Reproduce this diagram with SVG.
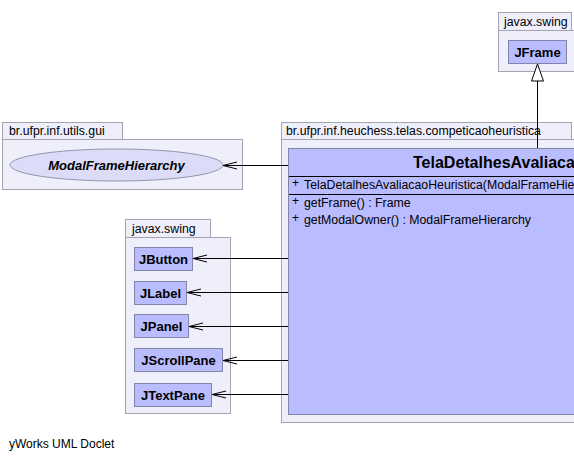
<svg xmlns="http://www.w3.org/2000/svg" width="574" height="460" viewBox="0 0 574 460">
<style>
.pkg{fill:#EFEFFC;stroke:#A4A4B0;stroke-width:1}
.pl{font-family:"Liberation Sans",Arial,sans-serif;font-size:12.3px;fill:#000}
.cls{fill:#B9BCFF;stroke:#8484A8;stroke-width:1}
.cn{font-family:"Liberation Sans",Arial,sans-serif;font-size:13px;font-weight:bold;fill:#000;text-anchor:middle}
.mem{font-family:"Liberation Sans",Arial,sans-serif;font-size:12.3px;fill:#000}
.sep{stroke:#000;stroke-width:1}
.edge{stroke:#000;stroke-width:1;fill:none}
</style>
<defs>
<marker id="open" markerWidth="16" markerHeight="10" refX="15" refY="5" orient="auto" markerUnits="userSpaceOnUse">
<path d="M1,1.5 L15,5 L1,8.5" fill="none" stroke="#000" stroke-width="1"/>
</marker>
<marker id="inh" markerWidth="19" markerHeight="14" refX="18" refY="7" orient="auto" markerUnits="userSpaceOnUse">
<path d="M18,7 L1,1 L1,13 Z" fill="#fff" stroke="#000" stroke-width="1"/>
</marker>
</defs>
<g id="pkg-javax-swing-top">
<rect class="pkg" x="498.5" y="12.5" width="73" height="18"/>
<rect class="pkg" x="498.5" y="30.5" width="78" height="41"/>
<text class="pl" x="504" y="26">javax.swing</text>
</g>
<g id="JFrame">
<rect class="cls" x="508.5" y="40.5" width="58" height="23"/>
<text class="cn" x="537.5" y="57">JFrame</text>
</g>
<g id="pkg-utils-gui">
<rect class="pkg" x="2.5" y="122.5" width="120" height="17"/>
<rect class="pkg" x="2.5" y="139.5" width="240" height="50"/>
<text class="pl" x="9" y="135">br.ufpr.inf.utils.gui</text>
</g>
<g id="ModalFrameHierarchy">
<ellipse cx="116.5" cy="165" rx="106.5" ry="16" fill="#DCDCF8" stroke="#9494AC" stroke-width="1"/>
<text x="116.5" y="170" font-family="Liberation Sans,Arial,sans-serif" font-size="13px" font-weight="bold" font-style="italic" text-anchor="middle">ModalFrameHierarchy</text>
</g>
<g id="pkg-telas">
<rect class="pkg" x="281.5" y="122.5" width="290" height="17"/>
<rect class="pkg" x="281.5" y="139.5" width="400" height="283"/>
<text class="pl" x="286" y="135">br.ufpr.inf.heuchess.telas.competicaoheuristica</text>
</g>
<g id="TelaDetalhesAvaliacaoHeuristica">
<rect class="cls" x="288.5" y="148.5" width="400" height="266"/>
<text x="413" y="168" font-family="Liberation Sans,Arial,sans-serif" font-size="16px" font-weight="bold">TelaDetalhesAvaliacaoHeuristica</text>
<line class="sep" x1="289" y1="176.5" x2="688" y2="176.5"/>
<text class="mem" x="292" y="187" font-size="10px">+</text>
<text class="mem" x="304" y="189">TelaDetalhesAvaliacaoHeuristica(ModalFrameHierarchy)</text>
<line class="sep" x1="289" y1="194.5" x2="688" y2="194.5"/>
<text class="mem" x="292" y="205" font-size="10px">+</text>
<text class="mem" x="304" y="207">getFrame() : Frame</text>
<text class="mem" x="292" y="222" font-size="10px">+</text>
<text class="mem" x="304" y="224">getModalOwner() : ModalFrameHierarchy</text>
</g>
<g id="pkg-javax-swing">
<rect class="pkg" x="125.5" y="219.5" width="85" height="18"/>
<rect class="pkg" x="125.5" y="237.5" width="105" height="176"/>
<text class="pl" x="132" y="233">javax.swing</text>
</g>
<g id="JButton">
<rect class="cls" x="134.5" y="247.5" width="58" height="23"/>
<text class="cn" x="163.5" y="264">JButton</text>
</g>
<g id="JLabel">
<rect class="cls" x="134.5" y="281.5" width="52" height="23"/>
<text class="cn" x="160.5" y="298">JLabel</text>
</g>
<g id="JPanel">
<rect class="cls" x="134.5" y="314.5" width="54" height="23"/>
<text class="cn" x="161.5" y="331">JPanel</text>
</g>
<g id="JScrollPane">
<rect class="cls" x="134.5" y="348.5" width="88" height="23"/>
<text class="cn" x="178.5" y="365">JScrollPane</text>
</g>
<g id="JTextPane">
<rect class="cls" x="134.5" y="383.5" width="77" height="23"/>
<text class="cn" x="173" y="400">JTextPane</text>
</g>
<g id="connectors">
<line class="edge" x1="537.5" y1="148" x2="537.5" y2="64" marker-end="url(#inh)"/>
<line class="edge" x1="288" y1="165.5" x2="223" y2="165.5" marker-end="url(#open)"/>
<line class="edge" x1="288" y1="258.5" x2="193" y2="258.5" marker-end="url(#open)"/>
<line class="edge" x1="288" y1="292.5" x2="187" y2="292.5" marker-end="url(#open)"/>
<line class="edge" x1="288" y1="326.5" x2="189" y2="326.5" marker-end="url(#open)"/>
<line class="edge" x1="288" y1="360.5" x2="223" y2="360.5" marker-end="url(#open)"/>
<line class="edge" x1="288" y1="394.5" x2="212" y2="394.5" marker-end="url(#open)"/>
</g>
<text x="9" y="448" font-family="Liberation Sans,Arial,sans-serif" font-size="12px">yWorks UML Doclet</text>
</svg>
